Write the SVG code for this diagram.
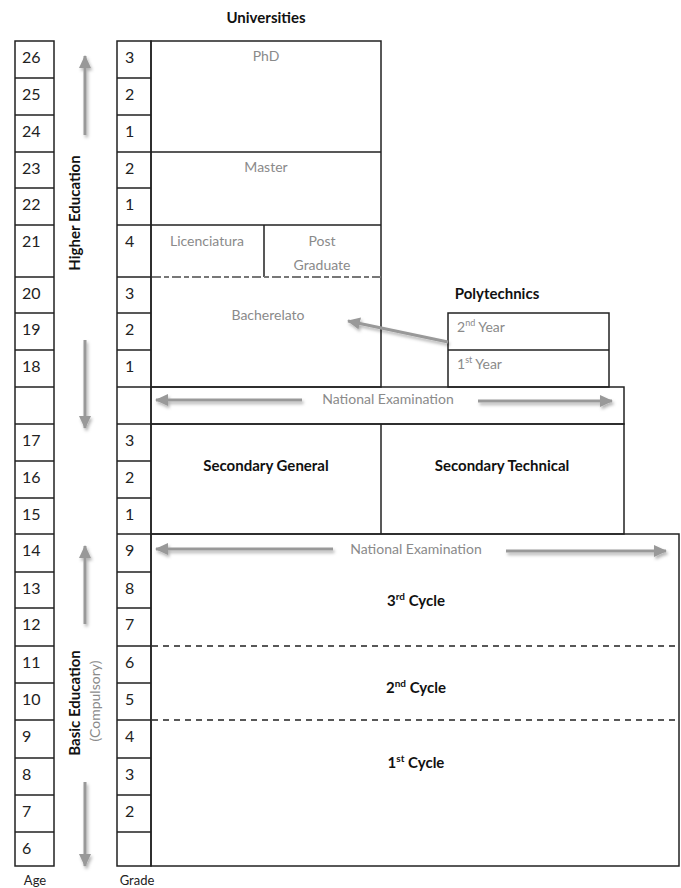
<svg xmlns="http://www.w3.org/2000/svg" width="681" height="888" viewBox="0 0 681 888">
<style>
.ln{stroke:#222;stroke-width:1.5;fill:none}
.num{font-family:Lato,"Liberation Sans",sans-serif;font-size:16px;fill:#222}
.gl{font-family:Lato,"Liberation Sans",sans-serif;font-size:14px;fill:#8a8a8a}
.bt{font-family:Lato,"Liberation Sans",sans-serif;font-size:15px;font-weight:bold;fill:#111}
.ar{stroke:#999;stroke-width:3;fill:none;filter:url(#sh)}
.sm{font-family:Lato,"Liberation Sans",sans-serif;font-size:13px;fill:#222}
</style>
<defs>
<filter id="sh" filterUnits="userSpaceOnUse" x="0" y="0" width="681" height="888"><feDropShadow dx="1.5" dy="2.5" stdDeviation="1.5" flood-color="#000" flood-opacity="0.3"/></filter>
<marker id="ah" markerUnits="userSpaceOnUse" markerWidth="14" markerHeight="12" refX="12" refY="6" orient="auto"><path d="M0,0 L13,6 L0,12 Z" fill="#999"/></marker>
</defs>
<rect width="681" height="888" fill="#fff"/>

<g id="age-column">
<rect class="ln" x="15" y="41" width="39" height="825"/>
<path class="ln" d="M15,78H54M15,115H54M15,152H54M15,188H54M15,225H54M15,277H54M15,313H54M15,350H54M15,387H54M15,424H54M15,461H54M15,498H54M15,534H54M15,572H54M15,608H54M15,646H54M15,683H54M15,720H54M15,758H54M15,795H54M15,832H54"/>
<g class="num">
<text x="22" y="63">26</text><text x="22" y="100">25</text><text x="22" y="137">24</text><text x="22" y="174">23</text><text x="22" y="210">22</text><text x="22" y="247">21</text><text x="22" y="299">20</text><text x="22" y="335">19</text><text x="22" y="372">18</text><text x="22" y="446">17</text><text x="22" y="483">16</text><text x="22" y="520">15</text><text x="22" y="556">14</text><text x="22" y="594">13</text><text x="22" y="630">12</text><text x="22" y="668">11</text><text x="22" y="705">10</text><text x="22" y="742">9</text><text x="22" y="780">8</text><text x="22" y="817">7</text><text x="22" y="854">6</text>
</g>
<text class="sm" x="35" y="885" text-anchor="middle">Age</text>
</g>

<g id="grade-column">
<rect class="ln" x="117" y="41" width="34" height="825"/>
<path class="ln" d="M117,78H151M117,115H151M117,152H151M117,188H151M117,225H151M117,277H151M117,313H151M117,350H151M117,387H151M117,424H151M117,461H151M117,498H151M117,534H151M117,572H151M117,608H151M117,646H151M117,683H151M117,720H151M117,758H151M117,795H151M117,832H151"/>
<g class="num">
<text x="125" y="63">3</text><text x="125" y="100">2</text><text x="125" y="137">1</text><text x="125" y="174">2</text><text x="125" y="210">1</text><text x="125" y="247">4</text><text x="125" y="299">3</text><text x="125" y="335">2</text><text x="125" y="372">1</text><text x="125" y="446">3</text><text x="125" y="483">2</text><text x="125" y="520">1</text><text x="125" y="556">9</text><text x="125" y="594">8</text><text x="125" y="630">7</text><text x="125" y="668">6</text><text x="125" y="705">5</text><text x="125" y="742">4</text><text x="125" y="780">3</text><text x="125" y="817">2</text>
</g>
<text class="sm" x="137" y="885" text-anchor="middle">Grade</text>
</g>

<g id="higher-education-label">
<text class="bt" transform="translate(80,213) rotate(-90)" text-anchor="middle" font-size="16">Higher Education</text>
</g>
<g id="basic-education-label">
<text class="bt" transform="translate(80,703) rotate(-90)" text-anchor="middle" font-size="16">Basic Education</text>
<text class="gl" transform="translate(100,701) rotate(-90)" text-anchor="middle" font-size="16">(Compulsory)</text>
</g>

<g id="universities">
<text class="bt" x="266" y="23" text-anchor="middle">Universities</text>
<rect class="ln" x="151" y="41" width="230" height="346"/>
<path class="ln" d="M151,152H381M151,225H381M264,225V277"/>
<path d="M152,277H381" stroke="#777" stroke-width="2" stroke-dasharray="9,3,5,3"/>
<text class="gl" x="266" y="61" text-anchor="middle">PhD</text>
<text class="gl" x="266" y="172" text-anchor="middle">Master</text>
<text class="gl" x="207" y="246" text-anchor="middle">Licenciatura</text>
<text class="gl" x="322" y="246" text-anchor="middle">Post</text>
<text class="gl" x="322" y="270" text-anchor="middle">Graduate</text>
<text class="gl" x="268" y="320" text-anchor="middle">Bacherelato</text>
</g>

<g id="polytechnics">
<text class="bt" x="497" y="299" text-anchor="middle">Polytechnics</text>
<rect class="ln" x="448" y="313" width="161" height="74"/>
<path class="ln" d="M448,350H609"/>
<text class="gl" x="457" y="332">2<tspan font-size="9" dy="-6">nd</tspan><tspan dy="6"> Year</tspan></text>
<text class="gl" x="457" y="369">1<tspan font-size="9" dy="-6">st</tspan><tspan dy="6"> Year</tspan></text>
</g>

<g id="national-examination-1">
<rect class="ln" x="151" y="387" width="473" height="37"/>
<text class="gl" x="388" y="404" text-anchor="middle">National Examination</text>
</g>

<g id="secondary">
<rect class="ln" x="151" y="424" width="473" height="110"/>
<path class="ln" d="M381,424V534"/>
<text class="bt" x="266" y="471" text-anchor="middle">Secondary General</text>
<text class="bt" x="502" y="471" text-anchor="middle">Secondary Technical</text>
</g>

<g id="basic-education">
<rect class="ln" x="151" y="534" width="528" height="332"/>
<path d="M152,646H679M152,720H679" stroke="#222" stroke-width="1.3" stroke-dasharray="6,5"/>
<text class="gl" x="416" y="554" text-anchor="middle">National Examination</text>
<text class="bt" x="416" y="606" text-anchor="middle">3<tspan font-size="10" dy="-6">rd</tspan><tspan dy="6"> Cycle</tspan></text>
<text class="bt" x="416" y="693" text-anchor="middle">2<tspan font-size="10" dy="-6">nd</tspan><tspan dy="6"> Cycle</tspan></text>
<text class="bt" x="416" y="768" text-anchor="middle">1<tspan font-size="10" dy="-6">st</tspan><tspan dy="6"> Cycle</tspan></text>
</g>

<g id="connectors">
<line class="ar" x1="85" y1="135" x2="85" y2="56" marker-end="url(#ah)"/>
<line class="ar" x1="85" y1="340" x2="85" y2="428" marker-end="url(#ah)"/>
<line class="ar" x1="85" y1="624" x2="85" y2="546" marker-end="url(#ah)"/>
<line class="ar" x1="85" y1="782" x2="85" y2="866" marker-end="url(#ah)"/>
<line class="ar" x1="448" y1="342" x2="348" y2="321" marker-end="url(#ah)"/>
<line class="ar" x1="302" y1="400" x2="156" y2="400" marker-end="url(#ah)"/>
<line class="ar" x1="478" y1="401" x2="612" y2="401" marker-end="url(#ah)"/>
<line class="ar" x1="333" y1="549" x2="156" y2="549" marker-end="url(#ah)"/>
<line class="ar" x1="506" y1="551" x2="666" y2="551" marker-end="url(#ah)"/>
</g>
</svg>
